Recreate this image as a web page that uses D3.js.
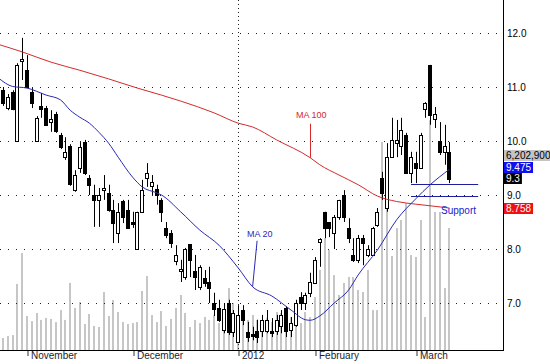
<!DOCTYPE html>
<html>
<head>
<meta charset="utf-8">
<script src="https://cdn.jsdelivr.net/npm/d3@7"></script>
<style>
  body { margin: 0; background: #fff; }
  svg { display: block; font-family: "Liberation Sans", Arial, sans-serif; }
</style>
</head>
<body>
<div id="chart"></div>
<script>
// daily sessions, index 0 = first visible bar (late October 2011) .. 93 = 12 March 2012
const open = [10.94, 10.61, 10.91, 10.00, 11.48, 11.31, 10.91, 10.00, 10.65, 10.61,
  10.35, 10.50, 10.11, 9.70, 9.91, 9.09, 9.50, 9.98, 9.32, 9.00,
  8.91, 9.09, 9.04, 8.72, 8.30, 8.89, 8.72, 8.50, 8.00, 8.69,
  9.32, 9.17, 9.11, 8.91, 8.39, 8.30, 7.78, 7.59, 7.48, 8.09,
  7.59, 7.30, 7.46, 7.39, 7.00, 6.91, 6.50, 7.00, 6.46, 6.28,
  6.87, 6.46, 6.43, 6.48, 6.48, 6.48, 6.48, 6.48, 6.57, 6.91,
  6.50, 6.59, 7.11, 7.00, 7.19, 7.37, 8.13, 8.69, 8.50, 8.30,
  8.59, 9.00, 8.39, 7.89, 7.80, 8.20, 7.89, 7.89, 8.44, 9.32,
  8.76, 9.70, 9.96, 9.91, 10.11, 9.41, 9.59, 9.50, 10.59, 11.41,
  10.41, 10.00, 9.80, 9.80]
const high = [11.00, 10.87, 10.94, 11.44, 11.91, 11.59, 10.98, 10.46, 10.89, 10.65,
  10.57, 10.54, 10.15, 10.07, 9.94, 9.46, 9.98, 10.02, 9.37, 9.19,
  9.13, 9.37, 9.19, 8.91, 8.85, 8.91, 8.91, 8.69, 8.69, 9.28,
  9.59, 9.37, 9.19, 8.94, 8.50, 8.35, 8.07, 7.80, 8.02, 8.09,
  7.89, 7.70, 7.61, 7.67, 7.19, 7.06, 7.00, 7.06, 6.87, 6.96,
  6.96, 6.65, 6.56, 6.69, 6.78, 6.87, 6.72, 6.78, 6.87, 6.94,
  6.74, 7.06, 7.20, 7.19, 7.56, 7.85, 8.20, 8.69, 8.50, 8.63,
  8.91, 9.09, 8.57, 8.20, 8.26, 8.26, 8.07, 8.41, 8.76, 9.43,
  9.96, 10.43, 10.39, 10.43, 10.15, 9.80, 9.80, 10.15, 10.72, 11.41,
  10.63, 10.35, 10.30, 9.98]
const low = [10.65, 10.57, 10.57, 10.00, 11.13, 11.00, 10.61, 10.00, 10.43, 10.28,
  10.17, 10.15, 9.85, 9.65, 9.17, 9.06, 9.41, 9.37, 9.00, 8.41,
  8.41, 8.91, 8.69, 8.11, 8.11, 8.48, 8.39, 8.39, 8.00, 8.69,
  9.15, 9.00, 8.82, 8.50, 8.20, 8.02, 7.70, 7.39, 7.43, 7.48,
  7.24, 7.24, 7.30, 7.00, 6.76, 6.65, 6.44, 6.41, 6.37, 6.26,
  6.59, 6.28, 6.31, 6.26, 6.37, 6.44, 6.37, 6.41, 6.44, 6.37,
  6.37, 6.56, 6.87, 6.87, 7.11, 7.37, 7.67, 8.20, 8.22, 8.00,
  8.54, 8.50, 8.11, 7.76, 7.74, 7.70, 7.85, 7.89, 8.41, 8.91,
  8.69, 9.69, 9.70, 9.74, 9.41, 9.22, 9.22, 9.50, 10.43, 10.30,
  10.24, 9.74, 9.56, 9.22]
const close = [10.70, 10.81, 10.59, 11.41, 11.52, 11.00, 10.70, 10.43, 10.59, 10.30,
  10.41, 10.19, 9.89, 9.80, 9.20, 9.37, 9.89, 9.41, 9.19, 8.91,
  9.00, 9.13, 8.72, 8.48, 8.69, 8.59, 8.39, 8.46, 8.69, 9.09,
  9.41, 9.24, 9.00, 8.69, 8.26, 8.11, 7.89, 7.63, 8.00, 7.80,
  7.48, 7.67, 7.37, 7.28, 6.89, 6.69, 6.89, 6.46, 6.82, 6.78,
  6.69, 6.37, 6.39, 6.37, 6.69, 6.69, 6.44, 6.69, 6.78, 6.48,
  6.63, 7.00, 7.00, 7.15, 7.39, 7.80, 8.19, 8.39, 8.39, 8.59,
  8.91, 8.59, 8.20, 7.80, 8.20, 8.11, 8.00, 8.39, 8.69, 9.04,
  9.70, 10.02, 10.02, 10.20, 9.41, 9.70, 9.50, 10.11, 10.70, 10.48,
  10.50, 9.80, 9.91, 9.30]
// volume, millions of shares
const volume = [0.61, 0.71, 0.76, 3.36, 4.93, 1.73, 1.47, 1.88, 1.53, 1.63,
  1.58, 1.42, 2.03, 1.53, 3.41, 2.14, 2.44, 1.32, 1.83, 1.22,
  1.17, 2.95, 1.73, 2.54, 1.93, 1.42, 1.32, 1.37, 1.42, 3.00,
  3.76, 1.78, 1.42, 1.98, 1.22, 1.58, 2.14, 2.80, 1.88, 1.17,
  1.53, 1.37, 1.68, 1.53, 1.78, 1.37, 1.88, 3.15, 2.39, 1.17,
  1.53, 1.53, 1.78, 1.53, 1.17, 1.63, 1.42, 1.93, 1.88, 1.53,
  1.68, 1.88, 1.37, 1.93, 1.68, 2.69, 4.07, 5.69, 5.08, 3.81,
  2.80, 3.41, 3.71, 3.71, 3.05, 2.95, 4.07, 2.03, 2.03, 10.58,
  9.66, 4.78, 6.20, 6.61, 7.47, 4.83, 4.73, 6.61, 1.68, 11.69,
  7.02, 7.02, 3.15, 6.2029]

// moving averages (day index, value)
const ma20Days = [-1, 2, 5, 9, 12, 14, 16, 18, 20, 22, 24, 27, 29, 32, 33, 37, 41, 45, 49, 52, 56, 60, 63, 64, 66, 69, 72, 74, 78, 82, 86, 89, 93]
const ma20 = [11.17, 11.01, 10.98, 10.85, 10.76, 10.57, 10.44, 10.33, 10.16, 9.96, 9.70, 9.33, 9.15, 9.04, 9.00, 8.69, 8.35, 8.07, 7.65, 7.30, 7.13, 6.87, 6.69, 6.68, 6.76, 7.00, 7.24, 7.52, 7.98, 8.54, 8.93, 9.19, 9.475]
const ma100Days = [-1, 4, 10, 16, 22, 28, 33, 37, 44, 49, 52, 57, 64, 66, 70, 74, 78, 82, 86, 90, 93]
const ma100 = [11.79, 11.65, 11.46, 11.31, 11.15, 10.98, 10.85, 10.74, 10.52, 10.33, 10.26, 10.02, 9.69, 9.56, 9.37, 9.19, 8.98, 8.88, 8.83, 8.79, 8.758]

const monthStarts = [5, 27, 49, 65, 86]
const monthLabels = ['November', 'December', '2012', 'February', 'March']
const yearStart = 49
const priceTicks = [7, 8, 9, 10, 11, 12]
const supportLevels = [9.2, 8.99]
const supportDays = [85, 99]

const width = 550
const height = 364
const plot = {right: 503, bottom: 350}

const x = d3.scaleLinear().domain([0, 93]).range([3, 449.4])
const y = d3.scaleLinear().domain([7, 12]).range([303, 33])
const yVol = d3.scaleLinear().domain([0, 17.8]).range([plot.bottom, 0])
const px = i => Math.round(x(i))

const bars = open.map((o, i) => ({i, o, h: high[i], l: low[i], c: close[i], v: volume[i]}))

const svg = d3.create('svg')
  .attr('width', width)
  .attr('height', height)
  .attr('viewBox', [0, 0, width, height])

// attach early so text can be measured
document.getElementById('chart').appendChild(svg.node())

svg.append('rect').attr('width', width).attr('height', height).attr('fill', '#fff')

svg.append('clipPath').attr('id', 'clip')
  .append('rect').attr('width', plot.right).attr('height', plot.bottom)

const g = svg.append('g').attr('clip-path', 'url(#clip)')

// volume in the background
g.append('g')
  .attr('fill', '#c6c6c6')
  .selectAll('rect')
  .data(bars)
  .join('rect')
    .attr('x', d => px(d.i) - 1)
    .attr('y', d => yVol(d.v))
    .attr('width', 2)
    .attr('height', d => plot.bottom - yVol(d.v))

// dotted grid
g.append('g')
  .attr('stroke', '#222')
  .attr('stroke-dasharray', '1,7')
  .selectAll('line')
  .data(priceTicks)
  .join('line')
    .attr('x1', 0)
    .attr('x2', plot.right)
    .attr('y1', d => Math.round(y(d)) + 0.5)
    .attr('y2', d => Math.round(y(d)) + 0.5)

g.append('line')
  .attr('stroke', '#222')
  .attr('stroke-dasharray', '1,3')
  .attr('x1', px(yearStart) + 0.5)
  .attr('x2', px(yearStart) + 0.5)
  .attr('y1', 0)
  .attr('y2', plot.bottom)

// candles
const candle = g.append('g')
  .selectAll('g')
  .data(bars)
  .join('g')

candle.append('line')
  .attr('stroke', '#000')
  .attr('x1', d => px(d.i) + 0.5)
  .attr('x2', d => px(d.i) + 0.5)
  .attr('y1', d => y(d.h))
  .attr('y2', d => y(d.l))

candle.append('rect')
  .attr('x', d => px(d.i) - 1.5)
  .attr('width', 3)
  .attr('y', d => Math.round(y(Math.max(d.o, d.c))) + 0.5)
  .attr('height', d => Math.max(1, Math.round(y(Math.min(d.o, d.c)) - y(Math.max(d.o, d.c)))))
  .attr('fill', d => d.c >= d.o ? '#fff' : '#000')
  .attr('stroke', '#000')

// moving averages
const line = d3.line()
  .x(d => x(d[0]))
  .y(d => y(d[1]))
  .curve(d3.curveMonotoneX)

g.append('path')
  .datum(d3.zip(ma100Days, ma100))
  .attr('fill', 'none')
  .attr('stroke', '#d42a2a')
  .attr('d', line)

g.append('path')
  .datum(d3.zip(ma20Days, ma20))
  .attr('fill', 'none')
  .attr('stroke', '#2a2ab4')
  .attr('d', line)

// support lines
g.append('g')
  .attr('stroke', '#1e1ea0')
  .selectAll('line')
  .data(supportLevels)
  .join('line')
    .attr('x1', x(supportDays[0]))
    .attr('x2', x(supportDays[1]))
    .attr('y1', d => Math.round(y(d)) + 0.5)
    .attr('y2', d => Math.round(y(d)) + 0.5)

g.append('text')
  .attr('x', x(supportDays[0]) + 30)
  .attr('y', y(supportLevels[1]) + 18)
  .attr('fill', '#2222cc')
  .attr('font-size', 10)
  .text('Support')

// MA annotations with leader lines
const ma100At = ma100[ma100Days.indexOf(64)]
g.append('line')
  .attr('stroke', '#d42a2a')
  .attr('x1', px(64) + 0.5).attr('x2', px(64) + 0.5)
  .attr('y1', y(ma100At) - 34).attr('y2', y(ma100At))
g.append('text')
  .attr('x', px(64) - 14)
  .attr('y', y(ma100At) - 40)
  .attr('fill', '#d42a2a')
  .attr('font-size', 9)
  .text('MA 100')

const ma20At = ma20[ma20Days.indexOf(52)]
g.append('line')
  .attr('stroke', '#2a2ab4')
  .attr('x1', x(52) + 4.5).attr('x2', x(52))
  .attr('y1', y(ma20At) - 46).attr('y2', y(ma20At))
g.append('text')
  .attr('x', x(52) - 5.5)
  .attr('y', y(ma20At) - 50)
  .attr('fill', '#2a2ab4')
  .attr('font-size', 9)
  .text('MA 20')

// axes
svg.append('line')
  .attr('stroke', '#000')
  .attr('x1', plot.right + 0.5).attr('x2', plot.right + 0.5)
  .attr('y1', 0).attr('y2', plot.bottom + 1)
svg.append('line')
  .attr('stroke', '#000')
  .attr('x1', 0).attr('x2', plot.right + 1)
  .attr('y1', plot.bottom + 0.5).attr('y2', plot.bottom + 0.5)

svg.append('g')
  .attr('transform', `translate(${plot.right}, 0)`)
  .call(d3.axisRight(y).tickValues(priceTicks).tickFormat(d3.format('.1f')).tickSize(0).tickPadding(4))
  .call(a => a.select('.domain').remove())
  .call(a => a.selectAll('text').attr('font-size', 10).attr('font-family', null).attr('fill', '#000'))

svg.append('g')
  .attr('transform', `translate(0.5, ${plot.bottom})`)
  .call(d3.axisBottom(x).tickValues(monthStarts).tickFormat((d, i) => monthLabels[i]).tickSize(6).tickSizeOuter(0))
  .call(a => a.select('.domain').remove())
  .call(a => a.selectAll('.tick line').attr('y1', 1).attr('stroke', '#333'))
  .call(a => a.selectAll('.tick').attr('transform', d => `translate(${px(d) + 0.5},0)`))
  .call(a => a.selectAll('text')
    .attr('font-size', 10).attr('font-family', null)
    .attr('fill', '#1c1c30')
    .attr('text-anchor', 'start')
    .attr('x', 3).attr('y', 2))

// last-value boxes on the price axis
const fmt = d3.format('.3~f')
const boxH = 11
const last = close.length - 1
const boxes = [
  {text: d3.format(',')(Math.round(volume[last] * 1e6)), fill: '#c4c4c4', color: '#000', full: true},
  {value: ma20[ma20.length - 1], fill: '#1010ee', color: '#fff'},
  {value: close[last], fill: '#000', color: '#fff'},
  {value: ma100[ma100.length - 1], fill: '#ee1111', color: '#fff'},
]
// price boxes sit on their level; the upper ones are pushed up to avoid overlap
boxes[3].cy = y(boxes[3].value)
let floor = Infinity
boxes.slice(0, 3).reverse().forEach(b => {
  if (b.value === undefined) b.cy = floor - boxH - 1
  else b.cy = Math.min(y(b.value), floor - boxH - 0.5)
  floor = b.cy
})
boxes.forEach(b => { if (b.value !== undefined) b.text = fmt(b.value) })

const lab = svg.append('g').attr('font-size', 10)
boxes.forEach(b => {
  const box = lab.append('rect')
    .attr('x', plot.right + 1)
    .attr('y', Math.round(b.cy - boxH / 2))
    .attr('height', boxH)
    .attr('fill', b.fill)
  const t = lab.append('text')
    .attr('x', plot.right + 3)
    .attr('y', b.cy)
    .attr('dy', '0.35em')
    .attr('fill', b.color)
    .text(b.text)
  const w = t.node().getComputedTextLength()
  box.attr('width', b.full ? width - plot.right : w + 4)
})
</script>
</body>
</html>
